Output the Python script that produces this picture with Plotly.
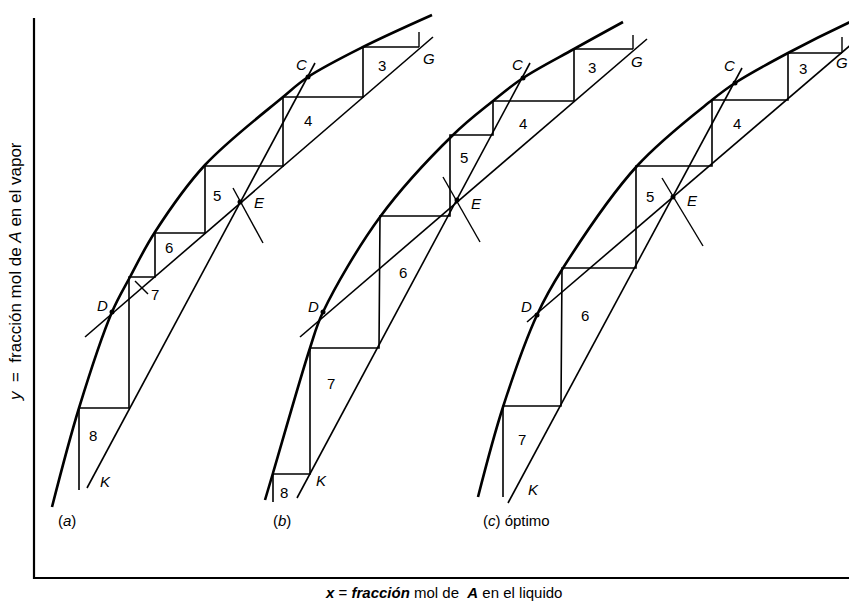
import plotly.graph_objects as go

# ---------------------------------------------------------------
# McCabe-Thiele construction, three cases drawn on one set of axes
# Coordinates are drawing units: x to the right, y downward.
# ---------------------------------------------------------------

# (a) equilibrium curve, operating lines, q-line and stages
eq_a_x = [52, 79, 112, 130, 155, 205, 283, 308, 363, 432]
eq_a_y = [507, 408, 312, 277, 232, 165, 97, 77, 47, 15]
enr_a_x = [433, 85]
enr_a_y = [37, 337]
str_a_x = [315, 87]
str_a_y = [63, 488]
q_a_x = [233, 263]
q_a_y = [188, 243]
stair_a_x = [419, 363, 363, 283, 283, 205, 205, 155, 155, 130, 129, 129, 79, 79]
stair_a_y = [47, 47, 97, 97, 166, 166, 233, 233, 277, 277, 277, 408, 408, 490]
tick_a_x = [419, 419]
tick_a_y = [32, 47]
arrow_a_x = [135, 148]
arrow_a_y = [281, 294]
stage_a = ["3", "4", "5", "6", "7", "8"]
stage_a_x = [382, 308, 217, 169, 155, 93]
stage_a_y = [65, 120, 195, 247, 294, 435]
pts_a = ["C", "G", "E", "D", "K"]
pts_a_x = [301, 429, 259, 102, 105]
pts_a_y = [64, 58, 202, 305, 481]

# (b)
eq_b_x = [265, 273, 310, 323, 380, 453, 493, 523, 574, 623]
eq_b_y = [500, 473, 348, 312, 217, 135, 101, 78, 49, 22]
enr_b_x = [647, 300]
enr_b_y = [39, 337]
str_b_x = [530, 297]
str_b_y = [63, 498]
q_b_x = [443, 480]
q_b_y = [177, 242]
stair_b_x = [633, 574, 574, 493, 493, 451, 450, 450, 380, 379, 310, 310, 273, 273]
stair_b_y = [49, 49, 101, 101, 135, 135, 135, 216, 216, 348, 348, 474, 474, 502]
tick_b_x = [633, 633]
tick_b_y = [35, 49]
stage_b = ["3", "4", "5", "6", "7", "8"]
stage_b_x = [592, 523, 464, 403, 331, 284]
stage_b_y = [67, 123, 157, 272, 383, 492]
pts_b = ["C", "G", "E", "D", "K"]
pts_b_x = [517, 637, 476, 313, 321]
pts_b_y = [64, 61, 203, 306, 480]

# (c) optimum
eq_c_x = [478, 503, 537, 563, 637, 712, 735, 788, 848, 880]
eq_c_y = [497, 407, 315, 268, 166, 100, 83, 53, 23, 9]
enr_c_x = [860, 527]
enr_c_y = [37, 322]
str_c_x = [742, 508]
str_c_y = [68, 503]
q_c_x = [662, 703]
q_c_y = [178, 246]
stair_c_x = [842, 788, 788, 712, 712, 637, 636, 636, 562, 561, 503, 503]
stair_c_y = [53, 53, 100, 100, 166, 166, 166, 268, 268, 406, 406, 497]
tick_c_x = [842, 842]
tick_c_y = [37, 53]
stage_c = ["3", "4", "5", "6", "7"]
stage_c_x = [803, 737, 650, 585, 522]
stage_c_y = [68, 123, 196, 315, 439]
pts_c = ["C", "G", "E", "D", "K"]
pts_c_x = [729, 842, 692, 526, 533]
pts_c_y = [65, 62, 200, 306, 489]

panel_names = ["(<i>a</i>)", "(<i>b</i>)", "(<i>c</i>) óptimo"]
panel_x = [67, 282, 516]
panel_y = [520, 520, 520]

# axes frame
frame_x = [34, 34, 849]
frame_y = [18, 578, 578]

fig = go.Figure()


def line(xs, ys, width):
    fig.add_trace(go.Scatter(
        x=xs, y=ys, mode="lines", hoverinfo="skip", showlegend=False,
        line=dict(color="black", width=width, shape="linear"),
    ))


def curve(xs, ys):
    fig.add_trace(go.Scatter(
        x=xs, y=ys, mode="lines", hoverinfo="skip", showlegend=False,
        line=dict(color="black", width=2.6, shape="spline", smoothing=1.0),
    ))


panels = [
    (eq_a_x, eq_a_y, enr_a_x, enr_a_y, str_a_x, str_a_y, q_a_x, q_a_y,
     stair_a_x, stair_a_y, tick_a_x, tick_a_y),
    (eq_b_x, eq_b_y, enr_b_x, enr_b_y, str_b_x, str_b_y, q_b_x, q_b_y,
     stair_b_x, stair_b_y, tick_b_x, tick_b_y),
    (eq_c_x, eq_c_y, enr_c_x, enr_c_y, str_c_x, str_c_y, q_c_x, q_c_y,
     stair_c_x, stair_c_y, tick_c_x, tick_c_y),
]

for (ex, ey, nx, ny, sx, sy, qx, qy, tx, ty, kx, ky) in panels:
    curve(ex, ey)
    line(nx, ny, 1.6)
    line(sx, sy, 1.6)
    line(qx, qy, 1.4)
    line(tx, ty, 1.6)
    line(kx, ky, 1.4)

line(arrow_a_x, arrow_a_y, 1.4)
line(frame_x, frame_y, 2.2)

# intersection dots at C, D and E
dot_x = [308, 240, 112, 523, 457, 323, 735, 673, 537]
dot_y = [77, 202, 312, 78, 200, 312, 83, 197, 315]
fig.add_trace(go.Scatter(
    x=dot_x, y=dot_y, mode="markers", hoverinfo="skip", showlegend=False,
    marker=dict(color="black", size=5),
))

font_main = "Liberation Sans, Arial, sans-serif"


def label(text, x, y, size=13):
    fig.add_annotation(
        x=x, y=y, text=text, showarrow=False, xref="x", yref="y",
        font=dict(family=font_main, size=size, color="black"),
        xanchor="center", yanchor="middle",
    )


for names, xs, ys in [(stage_a, stage_a_x, stage_a_y),
                      (stage_b, stage_b_x, stage_b_y),
                      (stage_c, stage_c_x, stage_c_y)]:
    for t, x, y in zip(names, xs, ys):
        label(t, x, y, 15)

for names, xs, ys in [(pts_a, pts_a_x, pts_a_y),
                      (pts_b, pts_b_x, pts_b_y),
                      (pts_c, pts_c_x, pts_c_y)]:
    for t, x, y in zip(names, xs, ys):
        label("<i>" + t + "</i>", x, y, 15)

for t, x, y in zip(panel_names, panel_x, panel_y):
    label(t, x, y, 15)

# axis titles
fig.add_annotation(
    x=443, y=592, xref="x", yref="y", showarrow=False,
    text="<b><i>x</i></b> = <b><i>fracción</i></b> mol de  <b><i>A</i></b> en el liquido",
    font=dict(family=font_main, size=15, color="black"),
    xanchor="center", yanchor="middle",
)
fig.add_annotation(
    x=15, y=272, xref="x", yref="y", showarrow=False, textangle=-90,
    text="<i>y</i>  =  fracción mol de <i>A</i> en el vapor",
    font=dict(family=font_main, size=17, color="black"),
    xanchor="center", yanchor="middle",
)

fig.update_layout(
    width=849, height=604,
    margin=dict(l=0, r=0, t=0, b=0),
    paper_bgcolor="white", plot_bgcolor="white",
    xaxis=dict(range=[0, 849], visible=False, fixedrange=True),
    yaxis=dict(range=[604, 0], visible=False, fixedrange=True),
    showlegend=False,
)

fig.write_html("out.html")
